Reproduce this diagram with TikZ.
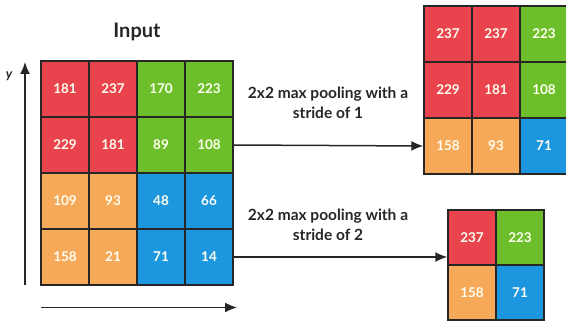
\documentclass[tikz,border=0pt]{standalone}
\usepackage{fontspec}
\setmainfont{Lato}
\usetikzlibrary{arrows.meta,positioning}
\definecolor{poolred}{RGB}{233,67,77}
\definecolor{poolgreen}{RGB}{108,191,42}
\definecolor{poolorange}{RGB}{247,169,90}
\definecolor{poolblue}{RGB}{28,150,222}
\tikzset{
  cell/.style={draw=black!85, line width=1.4pt, minimum width=48pt, minimum height=56pt,
    inner sep=0pt, text=white!94!yellow, font=\fontsize{13.5}{13.5}\selectfont\bfseries},
  cellsm/.style={cell, minimum height=55pt},
  conn/.style={line width=1.5pt, black!85, -{Latex[length=12pt,width=10pt]}},
  axis/.style={line width=1.5pt, black!85, -{Latex[length=12pt,width=10pt]}},
  note/.style={align=center, text=black!85, font=\fontsize{15.5}{20}\selectfont\bfseries}
}
\begin{document}
\begin{tikzpicture}[x=1pt,y=1pt]
\useasboundingbox (0,0) rectangle (566,327);
\clip (0,0) rectangle (566,327);
% input feature map
\node[text=black!85, font=\fontsize{20}{20}\selectfont\bfseries] (title) at (137,295) {Input};
\foreach \r/\a/\b/\c/\d in {1/181/237/170/223, 2/229/181/89/108, 3/109/93/48/66, 4/158/21/71/14} {
  \ifnum\r<3 \def\lc{poolred}\def\rc{poolgreen}\else\def\lc{poolorange}\def\rc{poolblue}\fi
  \node[cell, fill=\lc] (in-\r-1) at (65,294-56*\r) {\a};
  \node[cell, fill=\lc] (in-\r-2) at (113,294-56*\r) {\b};
  \node[cell, fill=\rc] (in-\r-3) at (161,294-56*\r) {\c};
  \node[cell, fill=\rc] (in-\r-4) at (209,294-56*\r) {\d};
}
% axes
\coordinate (ybot) at (25,42);
\coordinate (ytop) at (25,265);
\draw[axis] (ybot) -- (ytop);
\node[text=black!85, font=\fontsize{13}{13}\selectfont\itshape\bfseries] (ylab) at (9,251) {y};
\coordinate (xleft) at (41,19.5);
\coordinate (xright) at (237,19.5);
\draw[axis] (xleft) -- (xright);
% stride 1 output
\foreach \r/\a/\b/\c in {1/237/237/223, 2/229/181/108, 3/158/93/71} {
  \ifnum\r<3 \def\lc{poolred}\def\rc{poolgreen}\else\def\lc{poolorange}\def\rc{poolblue}\fi
  \node[cell, fill=\lc] (s1-\r-1) at (448,349-56*\r) {\a};
  \node[cell, fill=\lc] (s1-\r-2) at (496,349-56*\r) {\b};
  \node[cell, fill=\rc] (s1-\r-3) at (544,349-56*\r) {\c};
}
% stride 2 output
\node[cellsm, fill=poolred] (s2-1-1) at (472,89.5) {237};
\node[cellsm, fill=poolgreen] (s2-1-2) at (520,89.5) {223};
\node[cellsm, fill=poolorange] (s2-2-1) at (472,34.5) {158};
\node[cellsm, fill=poolblue] (s2-2-2) at (520,34.5) {71};
% pooling arrows
\draw[conn] (in-2-4.east) -- (s1-3-1.west);
\draw[conn] (in-4-4.east) -- (in-4-4.east -| s2-1-1.west);
\node[note] (lab1) at (328,224) {2x2 max pooling with a\\stride of 1};
\node[note] (lab2) at (328,102) {2x2 max pooling with a\\stride of 2};
\end{tikzpicture}
\end{document}
